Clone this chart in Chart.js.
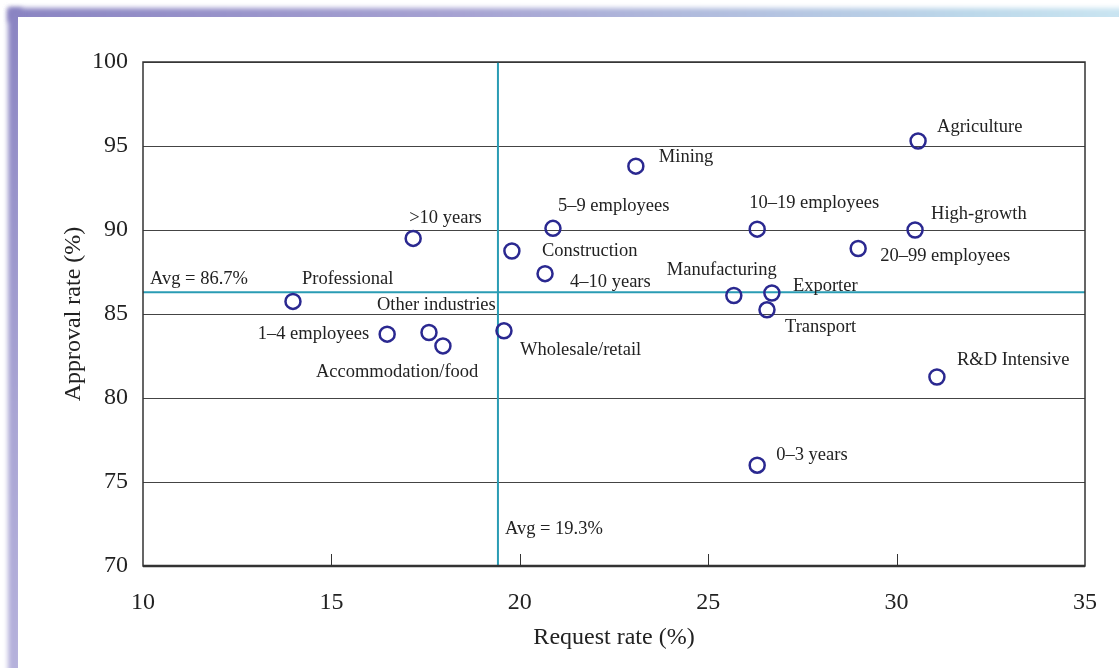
<!DOCTYPE html>
<html>
<head>
<meta charset="utf-8">
<script src="https://cdn.jsdelivr.net/npm/chart.js@4"></script>
<style>
  html, body { margin: 0; padding: 0; background: #fff; overflow: hidden; }
  #wrap { position: relative; width: 1119px; height: 668px; }
  .bar { position: absolute; filter: blur(2.5px); }
  #topbar { left: 8px; top: 8px; width: 1130px; height: 14px;
    background: linear-gradient(to right, #8a84c2 0%, #a6a2d2 40%, #bcd8ea 85%, #cbe6f2 100%); }
  #leftbar { left: 8px; top: 8px; width: 14px; height: 680px;
    background: linear-gradient(to bottom, #8a84c2 0%, #a9a5d4 60%, #b6b2dc 100%); }
  #inner { position: absolute; left: 18px; top: 17px; right: 0; bottom: 0; background: #fff; }
  canvas { position: absolute; left: 0; top: 0; }
</style>
</head>
<body>
<div id="wrap">
  <div class="bar" id="topbar"></div>
  <div class="bar" id="leftbar"></div>
  <div id="inner"></div>
  <canvas id="chart" width="1119" height="668"></canvas>
</div>
<script>
const groups = ['Agriculture', 'Mining', '5–9 employees', '10–19 employees', 'High-growth',
  '>10 years', 'Construction', '20–99 employees', '4–10 years', 'Professional',
  'Manufacturing', 'Exporter', 'Transport', '1–4 employees', 'Other industries',
  'Accommodation/food', 'Wholesale/retail', 'R&D Intensive', '0–3 years'];
const requestRate = [30.57, 23.08, 20.88, 26.3, 30.49,
  17.17, 19.79, 28.98, 20.67, 13.98,
  25.68, 26.69, 26.56, 16.48, 17.59,
  17.96, 19.58, 31.07, 26.3];
const approvalRate = [95.3, 93.8, 90.1, 90.05, 90.0,
  89.5, 88.75, 88.9, 87.4, 85.75,
  86.1, 86.25, 85.25, 83.8, 83.9,
  83.1, 84.0, 81.25, 76.0];
const avgRequest = 19.42;
const avgApproval = 86.3;
const avgRequestLabel = 'Avg = 19.3%';
const avgApprovalLabel = 'Avg = 86.7%';
const xTicks = [10, 15, 20, 25, 30, 35];
const yTicks = [70, 75, 80, 85, 90, 95, 100];

// label placement relative to each marker: [dx, dy, align]
const labelOffsets = [
  [19, -14, 'left'], [23, -9, 'left'], [5, -22, 'left'], [-8, -26, 'left'], [16, -16, 'left'],
  [-4, -20, 'left'], [30, 0, 'left'], [22, 8, 'left'], [25, 8, 'left'], [9, -22, 'left'],
  [-67, -25, 'left'], [21, -7, 'left'], [18, 17, 'left'], [-18, 0, 'right'], [-52, -27, 'left'],
  [-127, 26, 'left'], [16, 19, 'left'], [20, -17, 'left'], [19, -10, 'left']
];

const serif = "'Liberation Serif', 'DejaVu Serif', serif";
const teal = '#2a9cb4';
const navy = '#2a2890';

const decorations = {
  id: 'decorations',
  afterDatasetsDraw(chart) {
    const ctx = chart.ctx;
    const area = chart.chartArea;
    const xs = chart.scales.x, ys = chart.scales.y;
    ctx.save();
    // inward ticks on the x axis
    ctx.strokeStyle = '#333';
    ctx.lineWidth = 1;
    xTicks.slice(1, -1).forEach(v => {
      const px = Math.round(xs.getPixelForValue(v)) + 0.5;
      ctx.beginPath();
      ctx.moveTo(px, area.bottom);
      ctx.lineTo(px, area.bottom - 12);
      ctx.stroke();
    });
    // frame
    ctx.strokeStyle = '#333';
    ctx.lineWidth = 1.5;
    ctx.strokeRect(area.left, area.top, area.right - area.left, area.bottom - area.top);
    ctx.lineWidth = 2.5;
    ctx.beginPath();
    ctx.moveTo(area.left, area.bottom);
    ctx.lineTo(area.right, area.bottom);
    ctx.stroke();
    // point labels
    const meta = chart.getDatasetMeta(0);
    ctx.fillStyle = '#222';
    ctx.font = '18.5px ' + serif;
    ctx.textBaseline = 'middle';
    meta.data.forEach((pt, i) => {
      const [dx, dy, align] = labelOffsets[i];
      ctx.textAlign = align;
      ctx.fillText(groups[i], pt.x + dx, pt.y + dy);
    });
    // average labels
    ctx.font = '18.5px ' + serif;
    ctx.textAlign = 'left';
    ctx.fillText(avgApprovalLabel, area.left + 7, ys.getPixelForValue(avgApproval) - 13);
    ctx.fillText(avgRequestLabel, xs.getPixelForValue(avgRequest) + 7, ys.getPixelForValue(72.2));
    ctx.restore();
  }
};

new Chart(document.getElementById('chart'), {
  type: 'scatter',
  data: {
    datasets: [
      {
        label: 'Groups',
        data: requestRate.map((x, i) => ({ x: x, y: approvalRate[i] })),
        pointRadius: 7.5,
        pointHoverRadius: 7.5,
        pointBorderWidth: 2.5,
        pointBorderColor: navy,
        pointBackgroundColor: 'rgba(0,0,0,0)',
        order: 0
      },
      {
        type: 'line',
        label: 'Average request rate',
        data: [{ x: avgRequest, y: 70 }, { x: avgRequest, y: 100 }],
        borderColor: teal,
        borderWidth: 2,
        pointRadius: 0,
        order: 1
      },
      {
        type: 'line',
        label: 'Average approval rate',
        data: [{ x: 10, y: avgApproval }, { x: 35, y: avgApproval }],
        borderColor: teal,
        borderWidth: 2,
        pointRadius: 0,
        order: 1
      }
    ]
  },
  options: {
    responsive: false,
    animation: false,
    events: [],
    layout: { padding: { top: 62, right: 34, left: 0, bottom: 0 } },
    plugins: { legend: { display: false }, tooltip: { enabled: false } },
    scales: {
      x: {
        type: 'linear',
        min: 10, max: 35,
        afterBuildTicks: s => { s.ticks = xTicks.map(v => ({ value: v })); },
        afterFit: s => { s.height = 102; },
        grid: { display: false },
        border: { display: false },
        ticks: { color: '#222', padding: 14, font: { family: serif, size: 24 } },
        title: { display: true, text: 'Request rate (%)', color: '#222',
          font: { family: serif, size: 24 }, padding: { top: 0, bottom: 16 } }
      },
      y: {
        type: 'linear',
        min: 70, max: 100,
        afterBuildTicks: s => { s.ticks = yTicks.map(v => ({ value: v })); },
        afterFit: s => { s.width = 143; },
        grid: { color: '#444', lineWidth: 1, drawTicks: false },
        border: { display: false },
        ticks: { color: '#222', padding: 15, font: { family: serif, size: 24 } },
        title: { display: true, text: 'Approval rate (%)', color: '#222',
          font: { family: serif, size: 24 }, padding: { top: 59, bottom: 0 } }
      }
    }
  },
  plugins: [decorations]
});
</script>
</body>
</html>
